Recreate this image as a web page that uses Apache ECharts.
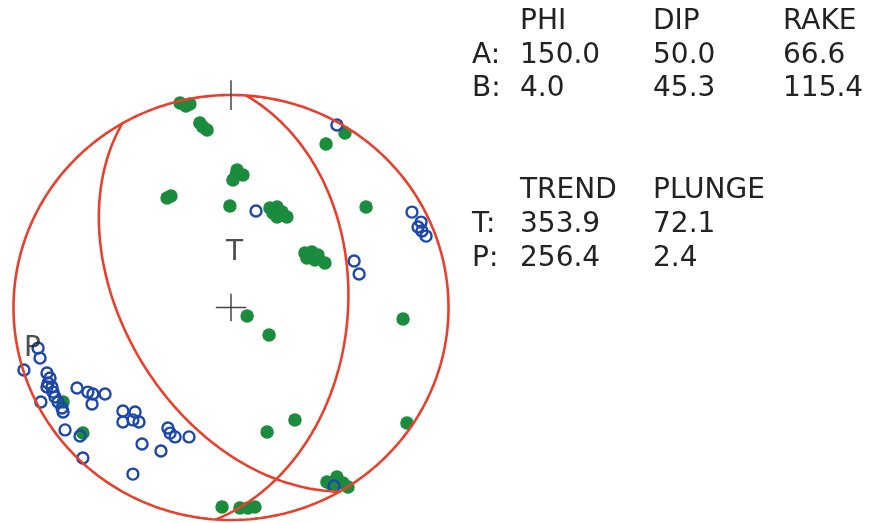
<!DOCTYPE html>
<html>
<head>
<meta charset="utf-8">
<script src="https://cdn.jsdelivr.net/npm/echarts@6/dist/echarts.min.js"></script>
<style>html,body{margin:0;padding:0;background:#fff;}#c{width:873px;height:523px;}</style>
</head>
<body>
<div id="c"></div>
<script>
// Nodal planes
const planeNames = ['A', 'B'];
const planePhi = [150.0, 4.0];
const planeDip = [50.0, 45.3];
const planeRake = [66.6, 115.4];
// Principal axes
const axisNames = ['T', 'P'];
const axisTrend = [353.9, 256.4];
const axisPlunge = [72.1, 2.4];
// Polarity observations, projected (east, north) in % of primitive radius
const compressions = [
  [-23.4,96.2],[-20.7,94.8],[-18.9,95.8],[-14.3,86.8],[-12.9,84.9],[-11.0,83.5],
  [43.7,76.9],[52.4,82.1],[2.3,62.4],[5.5,62.4],[0.9,60.0],[2.8,64.7],
  [-29.4,51.5],[-27.6,52.5],[-0.5,47.8],[17.9,46.8],[21.2,47.3],[23.5,44.9],
  [21.2,42.6],[25.7,42.6],[19.3,44.5],[62.1,47.3],[34.0,25.6],[37.2,26.1],
  [40.0,24.7],[38.6,22.4],[43.2,20.9],[34.9,23.3],[79.1,-5.4],[7.4,-4.0],
  [17.5,-12.9],[29.4,-52.9],[16.6,-58.6],[80.9,-54.4],[44.1,-82.1],[48.7,-79.8],
  [51.5,-82.6],[53.8,-84.5],[46.4,-83.5],[-4.1,-93.9],[4.1,-94.4],[7.8,-94.4],
  [11.0,-93.9],[-77.2,-44.5],[-68.1,-59.1]
];
const dilatations = [
  [-88.7,-19.1],[-87.8,-23.8],[-95.2,-29.4],[-84.6,-30.8],[-83.2,-33.2],[-84.1,-35.5],
  [-82.3,-37.4],[-81.8,-39.8],[-80.9,-42.1],[-79.5,-44.5],[-77.7,-47.3],[-77.2,-49.2],
  [-84.6,-37.4],[-87.4,-44.5],[-70.8,-37.9],[-65.8,-39.8],[-63.5,-40.7],[-57.9,-40.7],
  [-63.9,-45.4],[-76.3,-57.6],[-69.4,-60.5],[-68.1,-70.8],[-49.7,-48.7],[-44.1,-49.2],
  [-49.7,-53.9],[-45.1,-52.9],[-42.3,-53.9],[-40.9,-64.2],[-32.2,-67.5],[-45.1,-78.4],
  [-29.0,-56.7],[-28.0,-59.1],[-25.7,-60.9],[-19.3,-60.9],[48.7,85.9],[11.5,45.4],
  [56.6,21.9],[58.9,15.8],[83.2,44.9],[87.4,40.2],[86.0,37.9],[87.8,36.0],
  [89.7,33.6],[47.4,-84.0]
];

const RED = '#e8402c', GREEN = '#1b8b3d', BLUE = '#1d47a8', INK = '#222222';
const D2R = Math.PI / 180;
function project(trendRad, plungeRad) {
  const r = Math.SQRT2 * Math.sin((Math.PI / 2 - plungeRad) / 2) * 100;
  return [r * Math.sin(trendRad), r * Math.cos(trendRad)];
}
function planeCurve(strike, dip) {
  const s = strike * D2R, d = dip * D2R, dd = s + Math.PI / 2;
  const S = [Math.sin(s), Math.cos(s), 0];
  const D = [Math.sin(dd) * Math.cos(d), Math.cos(dd) * Math.cos(d), -Math.sin(d)];
  const pts = [];
  for (let i = 0; i <= 360; i++) {
    const t = i * Math.PI / 360;
    const v = [0, 1, 2].map(k => Math.cos(t) * S[k] + Math.sin(t) * D[k]);
    const pl = Math.asin(Math.max(-1, Math.min(1, -v[2])));
    const tr = Math.atan2(v[0], v[1]);
    pts.push(project(tr, pl));
  }
  return pts;
}
const circle = [];
for (let a = 0; a <= 360; a += 1) circle.push([100 * Math.sin(a * D2R), 100 * Math.cos(a * D2R)]);

const lineBase = { type: 'line', showSymbol: false, symbol: 'none', clip: false, silent: true, animation: false };
const series = [];
series.push(Object.assign({}, lineBase, { data: circle, lineStyle: { color: RED, width: 2.6 } }));
planePhi.forEach((p, i) => {
  series.push(Object.assign({}, lineBase, { data: planeCurve(p, planeDip[i]), lineStyle: { color: RED, width: 2.6 } }));
});
// north tick and centre cross
const crossStyle = { color: '#444', width: 1.5 };
series.push(Object.assign({}, lineBase, { data: [[0, 93], [0, 107]], lineStyle: crossStyle }));
series.push(Object.assign({}, lineBase, { data: [[-7, 0], [7, 0]], lineStyle: crossStyle }));
series.push(Object.assign({}, lineBase, { data: [[0, -6.5], [0, 6.5]], lineStyle: crossStyle }));
series.push({
  type: 'scatter', data: compressions, symbol: 'circle', symbolSize: 13.5, clip: false, animation: false,
  itemStyle: { color: GREEN, opacity: 1 }
});
series.push({
  type: 'scatter', data: dilatations, symbol: 'circle', symbolSize: 11, clip: false, animation: false,
  itemStyle: { color: 'rgba(0,0,0,0)', borderColor: BLUE, borderWidth: 2.4, opacity: 1 }
});
series.push({
  type: 'scatter', symbolSize: 0, clip: false, animation: false, silent: true,
  data: axisNames.map((n, i) => ({ name: n, value: project(axisTrend[i] * D2R, axisPlunge[i] * D2R) })),
  label: {
    show: true, formatter: p => p.name, position: [0, 0], align: 'left', verticalAlign: 'bottom',
    fontFamily: 'DejaVu Sans', fontSize: 28, color: INK, offset: [0, 6]
  }
});

// Text table
const graphic = [];
const colX = [472, 520, 653, 783];
function txt(x, y, s) {
  graphic.push({ type: 'text', left: x, top: y, style: { text: s, font: '28px "DejaVu Sans"', fill: INK } });
}
const rowTop = [8, 42, 75];
txt(colX[1], rowTop[0], 'PHI'); txt(colX[2], rowTop[0], 'DIP'); txt(colX[3], rowTop[0], 'RAKE');
planeNames.forEach((n, i) => {
  const y = rowTop[i + 1];
  txt(colX[0], y, n + ':');
  txt(colX[1], y, planePhi[i].toFixed(1));
  txt(colX[2], y, planeDip[i].toFixed(1));
  txt(colX[3], y, planeRake[i].toFixed(1));
});
const row2Top = [177, 211, 245];
txt(colX[1], row2Top[0], 'TREND'); txt(colX[2], row2Top[0], 'PLUNGE');
axisNames.forEach((n, i) => {
  const y = row2Top[i + 1];
  txt(colX[0], y, n + ':');
  txt(colX[1], y, axisTrend[i].toFixed(1));
  txt(colX[2], y, axisPlunge[i].toFixed(1));
});

const chart = echarts.init(document.getElementById('c'), null, { renderer: 'canvas' });
chart.setOption({
  animation: false,
  backgroundColor: '#fff',
  grid: { left: 13.5, top: 95, width: 435, height: 425, containLabel: false },
  xAxis: { type: 'value', min: -100, max: 100, show: false },
  yAxis: { type: 'value', min: -100, max: 100, show: false },
  series: series,
  graphic: graphic
});
</script>
</body>
</html>
